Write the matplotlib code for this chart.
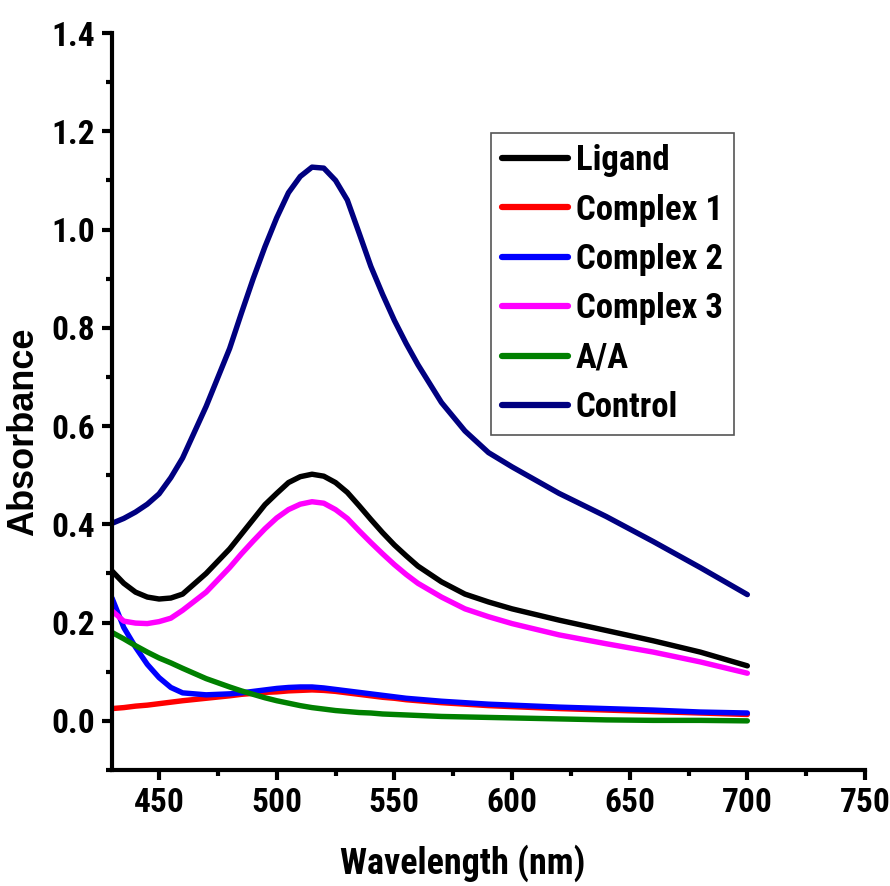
import os
import matplotlib
matplotlib.use("Agg")
import matplotlib.pyplot as plt
from matplotlib import font_manager
from matplotlib.font_manager import FontProperties
from matplotlib.ticker import MultipleLocator

# ---- find a condensed bold font if one is installed ----
prefs = ['liberationsansnarrow-bold.', 'arialnb', 'arial narrow bold', 'robotocondensed-bold.',
         'opensanscondensed-bold.', 'opensans_condensed-bold', 'dejavusanscondensed-bold.']
files = [f.fname for f in font_manager.fontManager.ttflist]
narrow_path = None
for p in prefs:
    for fn in files:
        if p in os.path.basename(fn).lower():
            narrow_path = fn
            break
    if narrow_path:
        break
if narrow_path is None:
    for fn in files:
        b = os.path.basename(fn).lower()
        if ('narrow' in b or 'condensed' in b) and 'bold' in b and 'italic' not in b and 'oblique' not in b:
            narrow_path = fn
            break

def fp(size_narrow, size_wide):
    if narrow_path:
        return FontProperties(fname=narrow_path, size=size_narrow)
    return FontProperties(family='Liberation Sans', weight='bold', size=size_wide)

wavelength = [430, 435, 440, 445, 450, 455, 460, 470, 480, 485, 490, 495, 500, 505, 510, 515,
              520, 525, 530, 535, 540, 545, 550, 555, 560, 570, 580, 590, 600, 620, 640, 660,
              680, 700]

ligand = [0.305, 0.280, 0.262, 0.252, 0.248, 0.250, 0.258, 0.300, 0.350, 0.380, 0.410, 0.440,
          0.463, 0.485, 0.497, 0.502, 0.498, 0.485, 0.465, 0.438, 0.410, 0.383, 0.358, 0.336,
          0.315, 0.283, 0.258, 0.242, 0.228, 0.205, 0.184, 0.163, 0.140, 0.112]
complex1 = [0.025, 0.027, 0.030, 0.032, 0.035, 0.038, 0.041, 0.046, 0.051, 0.054, 0.056, 0.058,
            0.059, 0.061, 0.062, 0.063, 0.062, 0.060, 0.057, 0.054, 0.051, 0.048, 0.046, 0.043,
            0.041, 0.037, 0.034, 0.031, 0.029, 0.025, 0.022, 0.019, 0.016, 0.013]
complex2 = [0.250, 0.190, 0.150, 0.115, 0.088, 0.068, 0.057, 0.053, 0.055, 0.057, 0.060, 0.063,
            0.066, 0.068, 0.069, 0.069, 0.067, 0.064, 0.061, 0.058, 0.055, 0.052, 0.049, 0.046,
            0.044, 0.040, 0.037, 0.034, 0.032, 0.028, 0.025, 0.022, 0.018, 0.016]
complex3 = [0.224, 0.203, 0.199, 0.198, 0.202, 0.209, 0.225, 0.262, 0.312, 0.340, 0.366, 0.391,
            0.413, 0.430, 0.441, 0.446, 0.443, 0.430, 0.412, 0.387, 0.363, 0.340, 0.318, 0.298,
            0.280, 0.252, 0.228, 0.212, 0.198, 0.175, 0.157, 0.140, 0.120, 0.097]
aa = [0.180, 0.167, 0.153, 0.140, 0.128, 0.118, 0.107, 0.086, 0.069, 0.061, 0.054, 0.047,
      0.041, 0.036, 0.031, 0.027, 0.024, 0.021, 0.019, 0.017, 0.016, 0.014, 0.013, 0.012,
      0.011, 0.009, 0.008, 0.007, 0.006, 0.004, 0.002, 0.001, 0.001, 0.000]
control = [0.402, 0.412, 0.425, 0.441, 0.462, 0.495, 0.535, 0.640, 0.758, 0.830, 0.900, 0.965,
           1.024, 1.075, 1.108, 1.127, 1.125, 1.100, 1.060, 0.993, 0.925, 0.868, 0.815, 0.768,
           0.725, 0.648, 0.590, 0.546, 0.517, 0.463, 0.416, 0.365, 0.312, 0.257]

series = [("Ligand", ligand, "#000000"),
          ("Complex 1", complex1, "#ff0000"),
          ("Complex 2", complex2, "#0000ff"),
          ("Complex 3", complex3, "#ff00ff"),
          ("A/A", aa, "#008000"),
          ("Control", control, "#000080")]

fig = plt.figure(figsize=(8.9, 8.86), dpi=100)
ax = fig.add_axes([112/890, 1-770/886, (865-112)/890, (770-33)/886])

for label, vals, color in series:
    ax.plot(wavelength, vals, color=color, lw=3.9, label=label,
            solid_capstyle='round', solid_joinstyle='round')

ax.set_xlim(430, 750)
ax.set_ylim(-0.1, 1.4)
ax.xaxis.set_major_locator(MultipleLocator(50))
ax.xaxis.set_minor_locator(MultipleLocator(25))
ax.set_yticks([0.0, 0.2, 0.4, 0.6, 0.8, 1.0, 1.2, 1.4])
ax.yaxis.set_minor_locator(MultipleLocator(0.1))

for s in ['top', 'right']:
    ax.spines[s].set_visible(False)
for s in ['left', 'bottom']:
    ax.spines[s].set_linewidth(3.0)

ax.tick_params(which='major', direction='out', length=7, width=3.0, pad=5)
ax.tick_params(which='minor', direction='out', length=4, width=3.0)

tick_fp = fp(24, 21)
for lab in ax.get_xticklabels() + ax.get_yticklabels():
    lab.set_fontproperties(tick_fp)

ax.set_xlabel("Wavelength (nm)", fontproperties=fp(26, 22))
ax.xaxis.set_label_coords(0.466, -0.101)
ax.set_ylabel("Absorbance", fontfamily='Liberation Sans', fontweight='bold', fontsize=26)
ax.yaxis.set_label_coords(-0.094, 0.459)

leg_fp = fp(25, 21)
fs_px = leg_fp.get_size_in_points() * 100 / 72.0
leg = ax.legend(loc='upper left', bbox_to_anchor=(0.503, 0.864), borderaxespad=0,
                prop=leg_fp,
                handlelength=66 / fs_px, handletextpad=8 / fs_px,
                labelspacing=(49.0 - 0.94 * fs_px) / fs_px,
                borderpad=11 / fs_px, fancybox=False, framealpha=1, edgecolor='#555555')
leg.get_frame().set_linewidth(1.2)
for line in leg.get_lines():
    line.set_linewidth(4.5)

fig.savefig("out.png", dpi=100)
